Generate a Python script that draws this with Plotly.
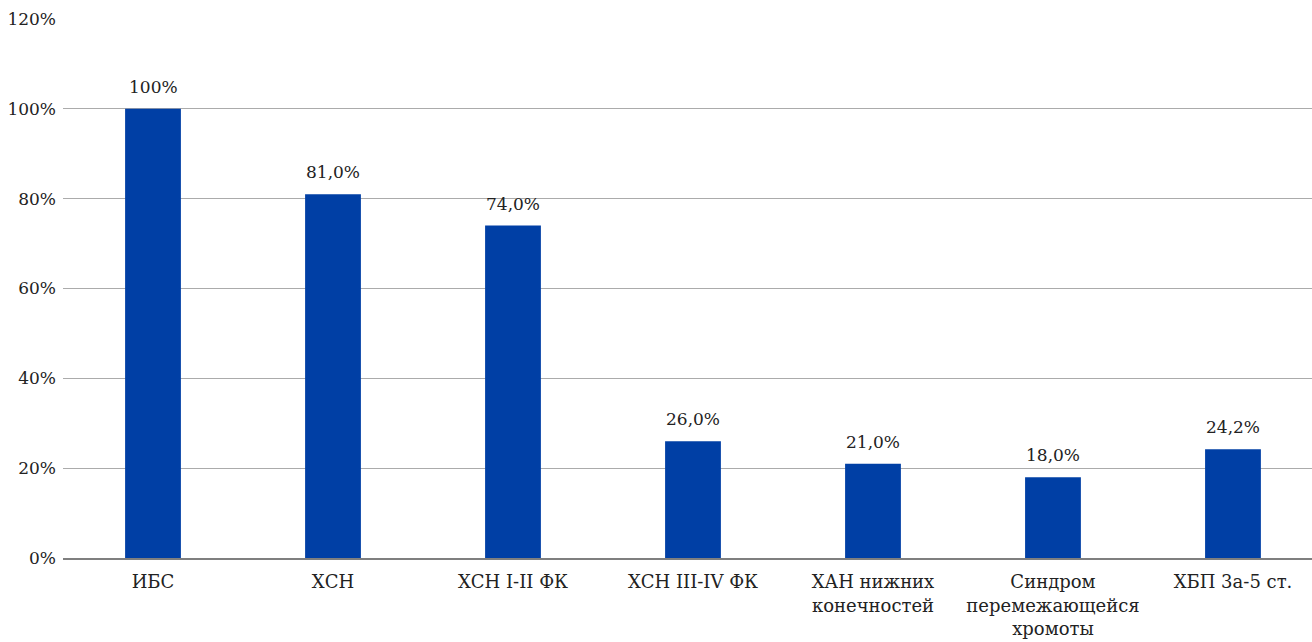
import plotly.graph_objects as go

categories = [
    "ИБС",
    "ХСН",
    "ХСН I-II ФК",
    "ХСН III-IV ФК",
    "ХАН нижних<br>конечностей",
    "Синдром<br>перемежающейся<br>хромоты",
    "ХБП 3а-5 ст.",
]
values = [100, 81.0, 74.0, 26.0, 21.0, 18.0, 24.2]
value_labels = ["100%", "81,0%", "74,0%", "26,0%", "21,0%", "18,0%", "24,2%"]
y_ticks = [0, 20, 40, 60, 80, 100, 120]
y_tick_labels = ["0%", "20%", "40%", "60%", "80%", "100%", "120%"]

FONT = "DejaVu Serif, serif"
BAR_COLOR = "#003fa5"
TEXT_COLOR = "#222222"

x_pos = list(range(len(categories)))

fig = go.Figure(
    go.Bar(
        x=x_pos,
        y=values,
        width=0.31,
        marker=dict(color=BAR_COLOR, line=dict(width=0)),
        hoverinfo="skip",
    )
)

# value labels above each bar
for xi, v, lab in zip(x_pos, values, value_labels):
    fig.add_annotation(
        x=xi, y=v, text=lab, showarrow=False,
        xanchor="center", yanchor="bottom", yshift=10,
        font=dict(family=FONT, size=17, color=TEXT_COLOR),
    )

fig.update_layout(
    width=1312,
    height=642,
    margin=dict(l=63, r=0, t=19, b=84),
    paper_bgcolor="white",
    plot_bgcolor="white",
    showlegend=False,
    font=dict(family=FONT, size=17, color=TEXT_COLOR),
    xaxis=dict(
        range=[-0.5, 6.439],
        tickmode="array",
        tickvals=x_pos,
        ticktext=categories,
        showgrid=False,
        zeroline=False,
        showline=True,
        linecolor="#7f7f7f",
        linewidth=1.5,
        ticks="",
        ticklabelstandoff=7,
        tickfont=dict(family=FONT, size=18, color=TEXT_COLOR),
    ),
    yaxis=dict(
        range=[0, 120],
        tickmode="array",
        tickvals=y_ticks,
        ticktext=y_tick_labels,
        showgrid=True,
        gridcolor="#ababab",
        gridwidth=1,
        zeroline=False,
        showline=False,
        ticks="",
        ticklabelstandoff=6,
        tickfont=dict(family=FONT, size=17, color=TEXT_COLOR),
    ),
)

fig.write_html("out.html")
